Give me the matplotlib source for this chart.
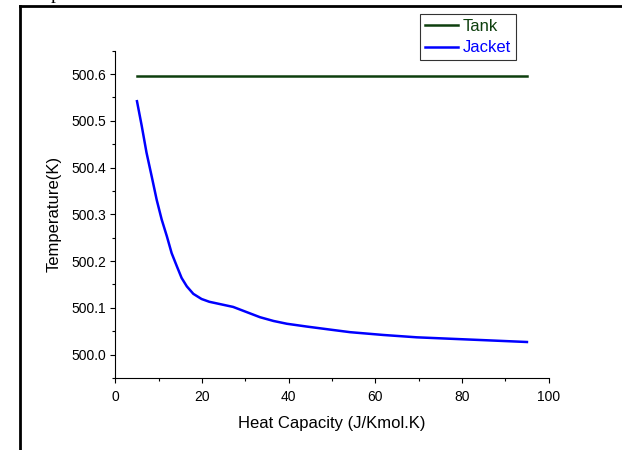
import matplotlib
matplotlib.use("Agg")
import matplotlib.pyplot as plt
from matplotlib.lines import Line2D
from matplotlib.ticker import MultipleLocator, FormatStrFormatter

# Data
x_tank = [5, 95]
y_tank = [500.595, 500.595]

x_jacket = [5, 6.1, 7.2, 8.4, 9.55, 10.7, 11.9, 13.0, 14.2, 15.3, 16.5, 18.0,
            19.9, 21.7, 24.2, 27.2, 30.3, 33.4, 36.5, 39.6, 44.2, 50, 54.2,
            61.9, 69.6, 77.2, 84.9, 95]
y_jacket = [500.542, 500.489, 500.432, 500.381, 500.331, 500.289, 500.253,
            500.217, 500.189, 500.164, 500.146, 500.130, 500.119, 500.113,
            500.108, 500.102, 500.091, 500.080, 500.072, 500.066, 500.060,
            500.053, 500.048, 500.042, 500.037, 500.034, 500.031, 500.027]

series_labels = ["Tank", "Jacket"]
x_label = "Heat Capacity (J/Kmol.K)"
y_label = "Temperature(K)"

plt.rcParams['font.family'] = ['Liberation Sans', 'DejaVu Sans']

fig = plt.figure(figsize=(6.22, 4.5), dpi=100)
ax = fig.add_axes([0.1854, 0.16, 0.882 - 0.1854, 0.8873 - 0.16])

tank_color = '#0d3f0d'
jacket_color = '#0000ff'
ax.plot(x_tank, y_tank, color=tank_color, lw=1.8, label=series_labels[0])
ax.plot(x_jacket, y_jacket, color=jacket_color, lw=1.8, label=series_labels[1],
        solid_joinstyle='round')

ax.set_xlim(0, 100)
ax.set_ylim(499.95, 500.65)
ax.xaxis.set_major_locator(MultipleLocator(20))
ax.xaxis.set_minor_locator(MultipleLocator(10))
ax.yaxis.set_major_locator(MultipleLocator(0.1))
ax.yaxis.set_minor_locator(MultipleLocator(0.05))
ax.yaxis.set_major_formatter(FormatStrFormatter('%.1f'))

for s in ['top', 'right']:
    ax.spines[s].set_visible(False)
for s in ['left', 'bottom']:
    ax.spines[s].set_linewidth(0.8)
ax.tick_params(which='major', direction='out', length=3.6, width=0.8,
               labelsize=10, pad=3)
ax.tick_params(axis='x', which='major', pad=5)
ax.tick_params(which='minor', direction='out', length=2.2, width=0.8)

ax.set_xlabel(x_label, fontsize=12, labelpad=9)
ax.set_ylabel(y_label, fontsize=12, labelpad=7)

leg = fig.legend(loc='upper right', bbox_to_anchor=(516 / 622, 1 - 14 / 450),
                 fontsize=12, frameon=True, fancybox=False, edgecolor='black',
                 handlelength=2.0, handletextpad=0.3, borderpad=0.28,
                 labelspacing=0.4, borderaxespad=0)
leg.get_frame().set_linewidth(0.8)
for txt, c in zip(leg.get_texts(), [tank_color, jacket_color]):
    txt.set_color(c)

# Outer frame (partially visible page frame)
fig.add_artist(Line2D([19.5 / 622, 19.5 / 622], [-0.1, 1 - 6 / 450],
                      transform=fig.transFigure, color='black', lw=2.0))
fig.add_artist(Line2D([19.5 / 622, 1.1], [1 - 6 / 450, 1 - 6 / 450],
                      transform=fig.transFigure, color='black', lw=2.0))
fig.text(51 / 622, 1 + 1 / 450, "p", family='Liberation Serif', fontsize=14,
         va='baseline', ha='left', color='black')

fig.savefig("out.png", dpi=100)
